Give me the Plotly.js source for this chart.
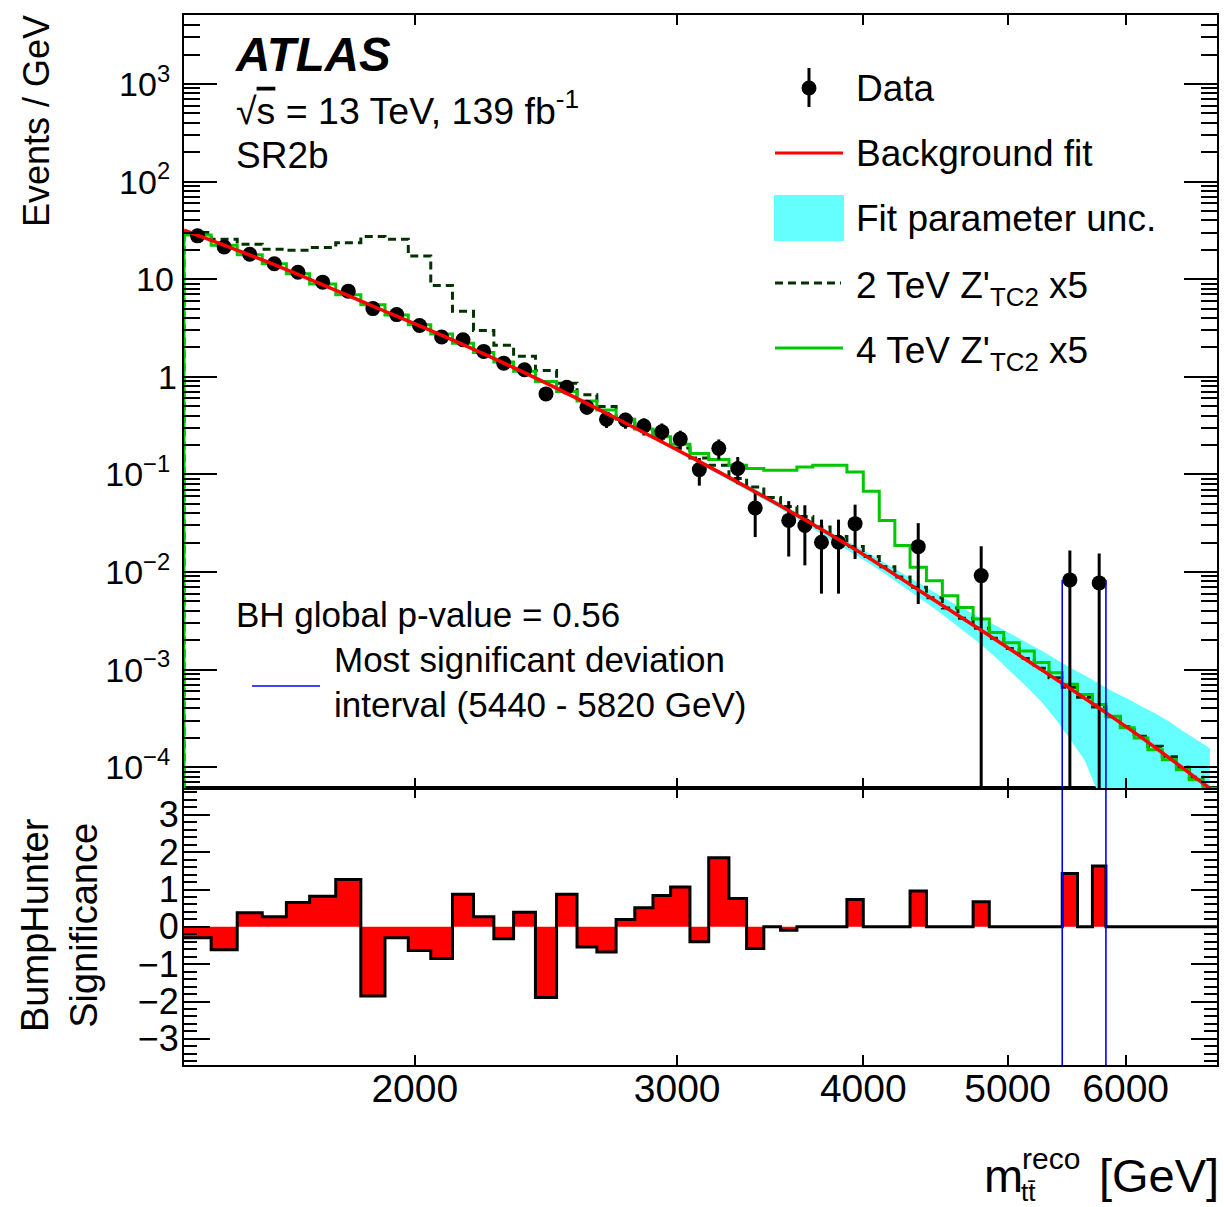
<!DOCTYPE html>
<html><head><meta charset="utf-8">
<script src="https://cdn.plot.ly/plotly-3.0.1.min.js"></script>
<style>html,body{margin:0;padding:0;background:#fff}</style>
</head><body>
<div id="chart" style="width:1224px;height:1207px"></div>
<script>
// ---------------- data ----------------
const binEdges = [1400,1460,1520,1580,1640,1700,1770,1840,1910,1980,2050,2120,2190,2260,2330,2410,2490,2570,2650,2730,
  2810,2890,2970,3060,3150,3250,3340,3430,3520,3610,3700,3800,3900,4000,4100,4200,4300,4410,4520,4630,
  4740,4860,4970,5090,5210,5330,5440,5570,5700,5820,5950,6080,6210,6350,6490,6620,6760,6910];

const dataVals = [27.8,21.4,18.0,14.4,11.8,9.33,7.54,5.0,4.34,3.35,
  2.56,2.40,1.82,1.38,1.18,0.668,0.783,0.488,0.367,0.361,
  0.313,0.274,0.230,0.112,0.185,0.115,0.0452,null,0.0338,0.030,
  0.0202,0.0202,0.0313,null,null,null,0.0182,null,null,null,
  0.00919,null,null,null,null,null,0.0083,null,0.00773,null,
  null,null,null,null,null,null,null];

const dataErr = [0.681,0.597,0.548,0.490,0.443,0.365,0.328,0.267,0.249,0.219,
  0.191,0.185,0.161,0.140,0.121,0.0914,0.0989,0.0781,0.0677,0.0672,
  0.0625,0.0585,0.0506,0.0353,0.0430,0.0357,0.0224,null,0.0194,0.0183,
  0.0142,0.0142,0.0177,null,null,null,0.0135,null,null,null,
  0.00919,null,null,null,null,null,0.0083,null,0.00773,null,
  null,null,null,null,null,null,null];

const fitMass = [1400,1620,1870,2140,2425,2744,3105,3514,3976,4364,4800,5172,5474,5822,6226,6761,6906];
const fitVals = [31.8,13.54,5.377,2.237,0.931,0.361,0.1351,0.04819,0.01602,0.006435,0.002526,0.001198,0.000678,0.0003602,0.0001757,6.862e-5,5.376e-5];

// fit-parameter uncertainty band, bins 24..57
const bandFirstBin = 24;
const bandHi = [0.1413,0.1098,0.0875,0.0710,0.0571,0.0456,0.0362,0.02906,0.02335,0.01859,
  0.01503,0.01200,0.00963,0.00774,0.00620,0.00499,0.00408,0.00335,0.00279,0.002313,
  0.00190,0.001563,0.001285,0.001053,0.000871,0.000710,0.000593,0.000505,0.000421,0.000358,
  0.000293,0.000235,0.000194,0.000156];
const bandLo = [0.1286,0.1000,0.0778,0.0615,0.0495,0.0396,0.0314,0.02459,0.01934,0.01503,
  0.01186,0.00925,0.00716,0.00556,0.00424,0.00318,0.00239,0.00181,0.00131,0.000940,
  0.000662,0.000467,0.000310,0.000196,0.000116,5.1e-5,2.5e-5,1.2e-5,6e-6,3e-6,
  1.5e-6,8e-7,4e-7,2e-7];

const zp2TeV = [30.1,25.7,22.8,20.3,19.8,21.1,23.7,27.4,25.7,17.3,
  8.63,4.70,2.99,2.10,1.62,1.16,0.861,0.653,0.495,0.375,
  0.295,0.235,0.187,0.147,0.124,0.0908,0.0742,0.058,0.047,0.037,
  0.029,0.0231,0.0183,0.0144,0.0113,0.0089,0.0070,0.00545,0.00427,0.00336,
  0.00265,0.00209,0.00165,0.0013,0.00103,0.000825,0.00066,0.00052,0.000413,0.000328,
  0.00026,0.000207,0.000164,0.000128,1.0e-4,7.87e-5,6.2e-5];

const zp4TeV = [28.3,22.3,17.8,14.4,11.4,8.95,6.92,5.46,4.30,3.41,
  2.74,2.21,1.77,1.42,1.14,0.895,0.706,0.566,0.458,0.367,
  0.292,0.243,0.204,0.164,0.142,0.124,0.115,0.110,0.110,0.119,
  0.124,0.124,0.106,0.0672,0.0338,0.0187,0.0112,0.00816,0.00572,0.00434,
  0.00330,0.00240,0.00189,0.00155,0.00118,0.00093,0.000706,0.000557,0.00044,0.000333,
  0.000253,0.000199,0.000151,0.000119,9.42e-5,7.43e-5,6.1e-5];

const bhSignificance = [-0.29,-0.61,0.38,0.27,0.65,0.82,1.27,-1.85,-0.29,-0.63,
  -0.85,0.875,0.27,-0.32,0.39,-1.89,0.875,-0.54,-0.67,0.20,
  0.51,0.84,1.07,-0.40,1.85,0.76,-0.58,0,-0.09,0,
  0,0,0.73,0,0,0,0.96,0,0,0,
  0.67,0,0,0,0,0,1.43,0,1.63,0,
  0,0,0,0,0,0,0];

const bhInterval = [5440, 5820];
const bhIntervalTop = 0.0083;

const xTickVals = [2000,3000,4000,5000,6000];
const xTickText = ['2000','3000','4000','5000','6000'];
const yTickVals = [1e-4,1e-3,1e-2,1e-1,1,10,100,1000];
const yTickText = ['10<sup>−4</sup>','10<sup>−3</sup>','10<sup>−2</sup>','10<sup>−1</sup>','1','10','10<sup>2</sup>','10<sup>3</sup>'];
const sTickVals = [-3,-2,-1,0,1,2,3];
const sTickText = ['−3','−2','−1','0','1','2','3'];

// ---------------- geometry helpers ----------------
const W = 1224, H = 1207, ML = 184, MR = 7, MT = 15, MB = 142;
const PW = W - ML - MR, PH = H - MT - MB;
const px = X => (X - ML) / PW;
const py = Y => (H - MB - Y) / PH;
const splitY = py(788);

const centers = [];
for (let i = 0; i < binEdges.length - 1; i++) centers.push(Math.sqrt(binEdges[i] * binEdges[i + 1]));
const nE = binEdges.length;

function stepXY(vals) {
  const x = [binEdges[0]], y = [1e-9];
  for (let i = 0; i < vals.length; i++) { x.push(binEdges[i]); y.push(vals[i]); }
  x.push(binEdges[nE - 1]); y.push(vals[vals.length - 1]);
  x.push(binEdges[nE - 1]); y.push(1e-9);
  return {x, y};
}

const dx = [], dy = [], dup = [], ddn = [];
dataVals.forEach((v, i) => {
  if (v !== null) { dx.push(centers[i]); dy.push(v); dup.push(dataErr[i]); ddn.push(Math.min(dataErr[i], v * 0.999999)); }
});
const bandX = centers.slice(bandFirstBin - 1);

const s2 = stepXY(zp2TeV), s4 = stepXY(zp4TeV);
const sigY = bhSignificance.concat([bhSignificance[bhSignificance.length - 1]]);

const yLo = Math.pow(10, -4.213);
const traces = [
  {x: bandX, y: bandLo, xaxis: 'x2', yaxis: 'y', mode: 'lines', line: {width: 0, color: 'rgba(0,0,0,0)'}, hoverinfo: 'skip'},
  {x: bandX, y: bandHi, xaxis: 'x2', yaxis: 'y', mode: 'lines', line: {width: 0, color: 'rgba(0,0,0,0)'}, fill: 'tonexty', fillcolor: '#66ffff'},
  {x: s2.x, y: s2.y, xaxis: 'x2', yaxis: 'y', mode: 'lines', line: {shape: 'hv', color: '#003300', width: 3, dash: '8px,5px'}},
  {x: s4.x, y: s4.y, xaxis: 'x2', yaxis: 'y', mode: 'lines', line: {shape: 'hv', color: '#00c800', width: 3}},
  {x: dx, y: dy, xaxis: 'x2', yaxis: 'y', mode: 'markers', marker: {color: '#000', size: 15},
   error_y: {type: 'data', symmetric: false, array: dup, arrayminus: ddn, color: '#000', thickness: 3, width: 0}},
  {x: fitMass, y: fitVals, xaxis: 'x2', yaxis: 'y', mode: 'lines', line: {color: '#ff0000', width: 3.5, shape: 'spline'}},
  {x: binEdges, y: sigY, xaxis: 'x', yaxis: 'y2', mode: 'lines', line: {shape: 'hv', color: '#000', width: 3}, fill: 'tozeroy', fillcolor: '#ff0000'},
  {x: [bhInterval[0], bhInterval[0]], y: [bhIntervalTop, yLo], xaxis: 'x2', yaxis: 'y', mode: 'lines', line: {color: '#0000ff', width: 1.6}},
  {x: [bhInterval[1], bhInterval[1]], y: [bhIntervalTop, yLo], xaxis: 'x2', yaxis: 'y', mode: 'lines', line: {color: '#0000ff', width: 1.6}},
  {x: [bhInterval[0], bhInterval[0]], y: [-10, 10], xaxis: 'x', yaxis: 'y2', mode: 'lines', line: {color: '#0000ff', width: 1.6}},
  {x: [bhInterval[1], bhInterval[1]], y: [-10, 10], xaxis: 'x', yaxis: 'y2', mode: 'lines', line: {color: '#0000ff', width: 1.6}}
];

const minorY = [];
for (let e = -5; e <= 3; e++) for (let k = 2; k <= 9; k++) minorY.push(k * Math.pow(10, e));

const FONT = 'Liberation Sans, Arial, Helvetica, sans-serif';
const axBase = {showline: true, linewidth: 2, linecolor: '#000', mirror: 'allticks', ticks: 'inside',
  tickcolor: '#000', tickwidth: 2, showgrid: false, zeroline: false, tickfont: {family: FONT, size: 36, color: '#000'}};
const xr = [Math.log10(binEdges[0]), Math.log10(binEdges[nE - 1])];

const ann = (text, X, Y, size, opts) => Object.assign({text, x: px(X), y: py(Y), xref: 'paper', yref: 'paper',
  showarrow: false, xanchor: 'left', yanchor: 'middle', font: {family: FONT, size, color: '#000'}}, opts || {});

// plain (non-superscript) log-axis labels placed on the y axis scale so their right edges line up with the others
const plainYLabels = yTickVals.map((v, i) => ({v, t: yTickText[i]})).filter(o => o.t.indexOf('<sup>') < 0);
const yLabelAnns = plainYLabels.map(o => ({text: o.t, xref: 'paper', x: px(o.t.length === 1 ? 179 : 176), yref: 'y', y: Math.log10(o.v),
  showarrow: false, xanchor: 'right', yanchor: 'middle', font: {family: FONT, size: 34, color: '#000'}}));
const yTickTextShown = yTickText.map(t => t.indexOf('<sup>') < 0 ? ' ' : t);

const annotations = [
  ann('<b><i>ATLAS</i></b>', 233, 55, 47.5),
  ann('√<span style="text-decoration:overline">s</span> = 13 TeV, 139 fb<sup>-1</sup>', 234, 108, 37.5),
  ann('SR2b', 234, 156, 37),
  ann('Data', 854, 88, 37),
  ann('Background fit', 854, 153, 37),
  ann('Fit parameter unc.', 854, 218, 37),
  ann("2 TeV Z'<sub>TC2</sub> x5", 854, 288, 37),
  ann("4 TeV Z'<sub>TC2</sub> x5", 854, 353, 37),
  ann('BH global p-value = 0.56', 234, 614, 35),
  ann('Most significant deviation', 332, 659, 35),
  ann('interval (5440 - 5820 GeV)', 332, 704, 35),
  ann('Events / GeV', 37, 121, 36, {xanchor: 'center', textangle: -90}),
  ann('BumpHunter<br>Significance', 59, 925, 38, {xanchor: 'center', textangle: -90}),
  ann('m', 982, 1175, 47),
  ann('reco', 1020, 1158, 30),
  ann('tt̄', 1019, 1192, 26),
  ann('[GeV]', 1221, 1175, 47, {xanchor: 'right'})
].concat(yLabelAnns);

const shapes = [
  {type: 'line', xref: 'paper', yref: 'paper', x0: px(809), x1: px(809), y0: py(68), y1: py(107), line: {color: '#000', width: 3}},
  {type: 'circle', xref: 'paper', yref: 'paper', x0: px(801.5), x1: px(816.5), y0: py(80.5), y1: py(95.5), fillcolor: '#000', line: {color: '#000', width: 0}},
  {type: 'line', xref: 'paper', yref: 'paper', x0: px(775), x1: px(843), y0: py(153), y1: py(153), line: {color: '#ff0000', width: 3}},
  {type: 'rect', xref: 'paper', yref: 'paper', x0: px(774), x1: px(844), y0: py(195), y1: py(241), fillcolor: '#66ffff', line: {width: 0}},
  {type: 'line', xref: 'paper', yref: 'paper', x0: px(775), x1: px(841), y0: py(283), y1: py(283), line: {color: '#003300', width: 3, dash: '8px,5px'}},
  {type: 'line', xref: 'paper', yref: 'paper', x0: px(775), x1: px(843), y0: py(348), y1: py(348), line: {color: '#00c800', width: 3}},
  {type: 'line', xref: 'paper', yref: 'paper', x0: px(252), x1: px(320), y0: py(686), y1: py(686), line: {color: '#0000ff', width: 1.6}}
];

const layout = {
  width: W, height: H, margin: {l: ML, r: MR, t: MT, b: MB, pad: 0},
  paper_bgcolor: '#fff', plot_bgcolor: '#fff', showlegend: false,
  font: {family: FONT, color: '#000'},
  xaxis: Object.assign({}, axBase, {type: 'log', range: xr, anchor: 'y2', domain: [0, 1],
    tickvals: xTickVals, ticktext: xTickText, ticklen: 10, tickfont: {family: FONT, size: 39, color: '#000'}, ticklabelstandoff: -12}),
  xaxis2: Object.assign({}, axBase, {type: 'log', range: xr, anchor: 'y', domain: [0, 1], matches: 'x',
    tickvals: xTickVals, ticktext: xTickText, ticklen: 10, showticklabels: false}),
  yaxis: Object.assign({}, axBase, {type: 'log', range: [-4.213, 3.707], anchor: 'x2', domain: [splitY, 1],
    tickvals: yTickVals, ticktext: yTickTextShown, ticklen: 33, ticklabelstandoff: 5, tickfont: {family: FONT, size: 34, color: '#000'},
    minor: {tickvals: minorY, ticks: 'inside', ticklen: 16, tickwidth: 2, tickcolor: '#000', showgrid: false}}),
  yaxis2: Object.assign({}, axBase, {range: [-3.70, 3.72], anchor: 'x', domain: [0, splitY],
    tickvals: sTickVals, ticktext: sTickText, ticklen: 26, ticklabelstandoff: -4,
    minor: {dtick: 0.2, ticks: 'inside', ticklen: 13, tickwidth: 2, tickcolor: '#000', showgrid: false}}),
  annotations, shapes
};

Plotly.newPlot('chart', traces, layout, {staticPlot: true, displayModeBar: false});
</script>
</body></html>
